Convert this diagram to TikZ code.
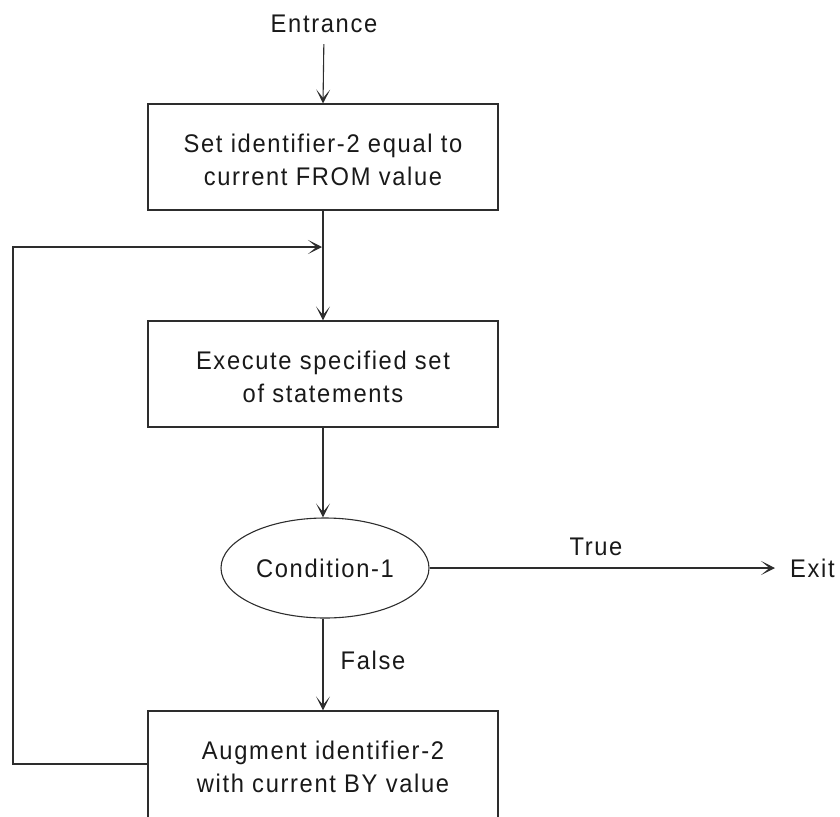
\documentclass[tikz,border=0pt]{standalone}
\usepackage{fontspec}
\setmainfont[LetterSpace=6.5,FakeStretch=0.93]{Liberation Sans}
\usetikzlibrary{shapes.geometric,arrows.meta}
\definecolor{ink}{RGB}{25,25,25}
\definecolor{rule}{RGB}{45,45,45}
% two-line box text, set a little below the box centre
\newcommand{\steptext}[2][5pt]{\raisebox{-#1}[\height][\depth]{%
  \begin{tabular}{@{}c@{}}#2\end{tabular}}}
\begin{document}
\begin{tikzpicture}[x=1pt,y=-1pt,
  every node/.style={text=ink,font=\fontsize{25.5}{33}\selectfont},
  stepbox/.style={draw=rule,line width=1.1pt,rectangle,minimum width=350pt,
    minimum height=106pt,inner sep=0pt},
  decision/.style={draw=rule,line width=1.1pt,ellipse,minimum width=208pt,
    minimum height=100pt,inner sep=0pt},
  lbl/.style={inner sep=0pt},
  arr/.style={draw=rule,line width=1.1pt,
    -{Stealth[length=14pt,width=14pt,inset=8.5pt]}}]
  \clip (0,0) rectangle (840,816);

  % nodes
  \node[lbl] (ent) at (324,24) {Entrance};
  \node[stepbox] (b1) at (323,157) {\steptext{Set identifier-2 equal to\\current FROM value}};
  \node[stepbox] (b2) at (323,374) {\steptext{Execute specified set\\of statements}};
  \node[decision] (cond) at (325,568) {Condition-1};
  \node[stepbox,minimum height=120pt] (b3) at (323,771)
    {\steptext[-2pt]{Augment identifier-2\\with current BY value}};
  \node[lbl,anchor=west] (exit) at (790,568) {Exit};
  \node[lbl] (tlab) at (596,547) {True};
  \node[lbl] (flab) at (373,660) {False};

  % loop-back corner and join point
  \coordinate (corner) at (13,247);
  \coordinate (join) at (322,247);

  % connectors
  \draw[arr,shorten <=11pt] (ent.south) -- (b1.north);
  \draw[arr] (b1.south) -- (b2.north);
  \draw[arr] (b2.south) -- (b2.south |- cond.north);
  \draw[arr,shorten >=15pt] (cond.east) -- (exit.west);
  \draw[arr] (cond.south -| b3.north) -- (b3.north);
  \draw[arr] ([yshift=7pt]b3.west) -| (corner) -- (join);
\end{tikzpicture}
\end{document}
